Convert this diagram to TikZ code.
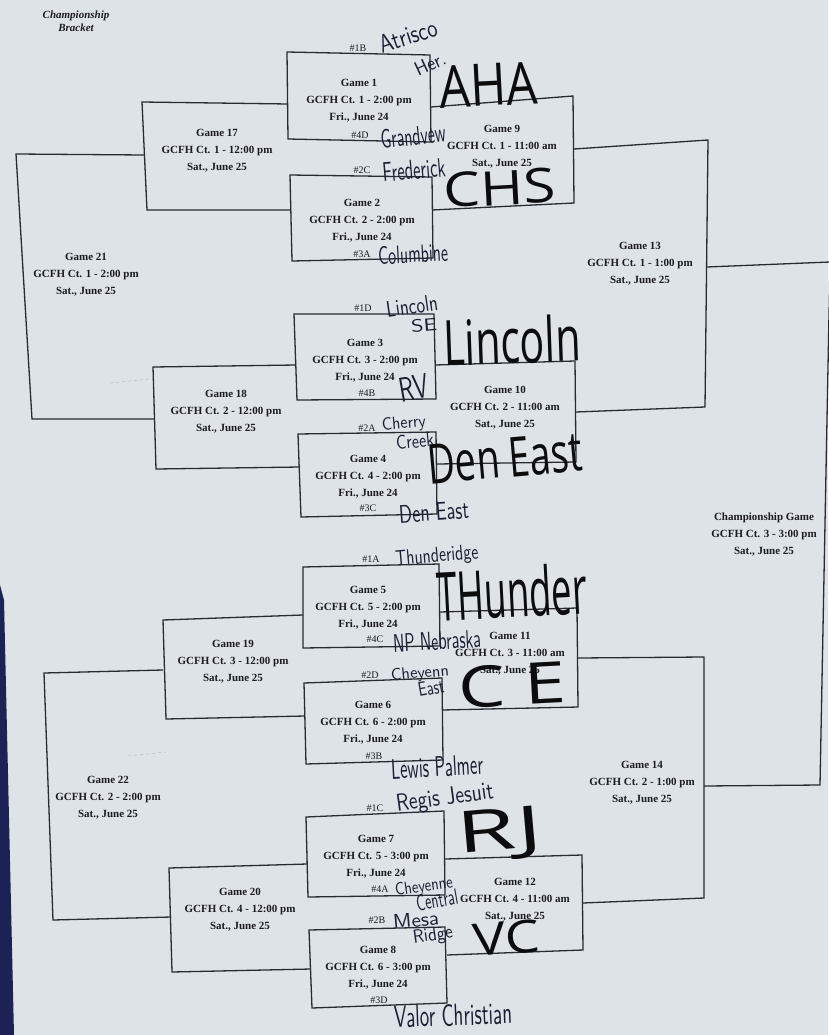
\documentclass[tikz,border=0pt]{standalone}
\usepackage{fontspec}
\setmainfont{Liberation Serif}
\newfontfamily\hwfont{Open Sans}
\newcommand\hw[3]{\resizebox*{#1pt}{#2pt}{\hwfont #3}}
\newcommand\hp[3]{\resizebox*{#1pt}{#2pt}{\sffamily #3}}
\definecolor{paper}{RGB}{221,227,231}
\definecolor{linec}{RGB}{40,44,50}
\definecolor{txtc}{RGB}{28,28,32}
\definecolor{inkc}{RGB}{26,30,52}
\definecolor{markc}{RGB}{12,12,14}
\definecolor{edgeblue}{RGB}{28,34,86}
\tikzset{
  brk/.style={draw=linec, line width=1.3pt, line join=miter},
  gm/.style={font=\fontsize{11}{17}\selectfont\bfseries, text=txtc, align=center, inner sep=0pt},
  seed/.style={font=\fontsize{10}{12}\selectfont, text=txtc, inner sep=0pt},
  pen/.style={text=inkc, inner sep=0pt},
  marker/.style={text=markc, inner sep=0pt},
}
\begin{document}
\begin{tikzpicture}[x=1pt,y=-1pt]
\useasboundingbox (0,0) rectangle (828,1035);
\fill[paper] (0,0) rectangle (828,1035);
\fill[edgeblue] (0,585) -- (4,600) -- (14,1035) -- (0,1035) -- cycle;
\draw[gray!55, dashed, line width=0.5pt] (110,383) -- (150,379);
\draw[gray!55, dashed, line width=0.5pt] (128,756) -- (166,752);

% title
\node[font=\fontsize{11}{13}\selectfont\bfseries\itshape, text=txtc, align=center, inner sep=0pt] (title) at (76,21) {Championship\\Bracket};

% ---------- first round boxes ----------
\draw[brk] (287,52) -- (430,55) -- (431,142) -- (288,139) -- cycle;   % G1
\draw[brk] (290,175) -- (432,177) -- (433,258) -- (292,261) -- cycle; % G2
\draw[brk] (294,314) -- (434,314) -- (436,399) -- (297,400) -- cycle; % G3
\draw[brk] (298,434) -- (436,432) -- (437,514) -- (301,517) -- cycle; % G4
\draw[brk] (303,567) -- (439,564) -- (440,646) -- (303,648) -- cycle; % G5
\draw[brk] (304,683) -- (442,678) -- (443,760) -- (306,764) -- cycle; % G6
\draw[brk] (306,817) -- (444,811) -- (445,895) -- (308,897) -- cycle; % G7
\draw[brk] (309,930) -- (445,927) -- (447,1003) -- (312,1008) -- cycle; % G8

% ---------- right side brackets ----------
\draw[brk] (431,107) -- (573,96) -- (574,203) -- (432,210);   % G9
\draw[brk] (435,365) -- (575,361) -- (576,462) -- (437,464);  % G10
\draw[brk] (440,612) -- (577,608) -- (578,707) -- (442,710);  % G11
\draw[brk] (445,859) -- (582,855) -- (583,950) -- (447,955);  % G12
\draw[brk] (574,149) -- (708,140) -- (705,407) -- (576,412);  % G13
\draw[brk] (578,658) -- (704,657) -- (704,898) -- (583,903);  % G14
\draw[brk] (707,267) -- (830,262) -- (820,785) -- (704,786);  % Championship

% ---------- left side brackets ----------
\draw[brk] (288,104) -- (142,102) -- (147,210) -- (291,210);  % G17
\draw[brk] (296,365) -- (153,367) -- (156,469) -- (300,467);  % G18
\draw[brk] (303,615) -- (163,620) -- (166,719) -- (305,716);  % G19
\draw[brk] (307,864) -- (169,868) -- (172,972) -- (311,969);  % G20
\draw[brk] (144,155) -- (16,154) -- (32,419) -- (154,419);    % G21
\draw[brk] (163,670) -- (44,673) -- (53,920) -- (171,917);    % G22

% ---------- printed game texts ----------
\node[gm] (g1) at (359,101) {Game 1\\GCFH Ct. 1 - 2:00 pm\\Fri., June 24};
\node[gm] (g2) at (362,221) {Game 2\\GCFH Ct. 2 - 2:00 pm\\Fri., June 24};
\node[gm] (g3) at (365,361) {Game 3\\GCFH Ct. 3 - 2:00 pm\\Fri., June 24};
\node[gm] (g4) at (368,477) {Game 4\\GCFH Ct. 4 - 2:00 pm\\Fri., June 24};
\node[gm] (g5) at (368,608) {Game 5\\GCFH Ct. 5 - 2:00 pm\\Fri., June 24};
\node[gm] (g6) at (373,723) {Game 6\\GCFH Ct. 6 - 2:00 pm\\Fri., June 24};
\node[gm] (g7) at (376,857) {Game 7\\GCFH Ct. 5 - 3:00 pm\\Fri., June 24};
\node[gm] (g8) at (378,968) {Game 8\\GCFH Ct. 6 - 3:00 pm\\Fri., June 24};
\node[gm] (g9) at (502,147) {Game 9\\GCFH Ct. 1 - 11:00 am\\Sat., June 25};
\node[gm] (g10) at (505,408) {Game 10\\GCFH Ct. 2 - 11:00 am\\Sat., June 25};
\node[gm] (g11) at (510,654) {Game 11\\GCFH Ct. 3 - 11:00 am\\Sat., June 25};
\node[gm] (g12) at (515,900) {Game 12\\GCFH Ct. 4 - 11:00 am\\Sat., June 25};
\node[gm] (g13) at (640,264) {Game 13\\GCFH Ct. 1 - 1:00 pm\\Sat., June 25};
\node[gm] (g14) at (642,783) {Game 14\\GCFH Ct. 2 - 1:00 pm\\Sat., June 25};
\node[gm] (g17) at (217,151) {Game 17\\GCFH Ct. 1 - 12:00 pm\\Sat., June 25};
\node[gm] (g18) at (226,412) {Game 18\\GCFH Ct. 2 - 12:00 pm\\Sat., June 25};
\node[gm] (g19) at (233,662) {Game 19\\GCFH Ct. 3 - 12:00 pm\\Sat., June 25};
\node[gm] (g20) at (240,910) {Game 20\\GCFH Ct. 4 - 12:00 pm\\Sat., June 25};
\node[gm] (g21) at (86,275) {Game 21\\GCFH Ct. 1 - 2:00 pm\\Sat., June 25};
\node[gm] (g22) at (108,798) {Game 22\\GCFH Ct. 2 - 2:00 pm\\Sat., June 25};
\node[gm] (champ) at (764,535) {Championship Game\\GCFH Ct. 3 - 3:00 pm\\Sat., June 25};

% ---------- seeds ----------
\node[seed] (s1b) at (358,48) {\#1B};
\node[seed] (s4d) at (360,135) {\#4D};
\node[seed] (s2c) at (362,170) {\#2C};
\node[seed] (s3a) at (362,254) {\#3A};
\node[seed] (s1d) at (363,308) {\#1D};
\node[seed] (s4b) at (367,393) {\#4B};
\node[seed] (s2a) at (367,428) {\#2A};
\node[seed] (s3c) at (368,508) {\#3C};
\node[seed] (s1a) at (371,559) {\#1A};
\node[seed] (s4c) at (375,639) {\#4C};
\node[seed] (s2d) at (370,675) {\#2D};
\node[seed] (s3b) at (374,756) {\#3B};
\node[seed] (s1c) at (375,808) {\#1C};
\node[seed] (s4a) at (380,889) {\#4A};
\node[seed] (s2b) at (377,920) {\#2B};
\node[seed] (s3d) at (379,1000) {\#3D};

% ---------- handwriting (pen) ----------
\node[pen, rotate=18] (h1) at (408,36) {\hp{60}{18}{Atrisco}};
\node[pen, rotate=25] (h2) at (430,64) {\hp{32}{14}{Her.}};
\node[pen, rotate=6] (h3) at (413,136) {\hp{65}{19}{Grandvew}};
\node[pen, rotate=5] (h4) at (414,170) {\hp{63}{19}{Frederick}};
\node[pen, rotate=3] (h5) at (413,254) {\hp{70}{18}{Columbine}};
\node[pen, rotate=8] (h6) at (412,306) {\hp{52}{16}{Lincoln}};
\node[pen, rotate=5] (h7) at (424,325) {\hp{26}{13}{SE}};
\node[pen, rotate=10] (h8) at (414,388) {\hp{30}{24}{RV}};
\node[pen, rotate=5] (h9) at (404,424) {\hp{44}{16}{Cherry}};
\node[pen, rotate=5] (h10) at (415,441) {\hp{38}{14}{Creek}};
\node[pen, rotate=4] (h11) at (434,512) {\hp{70}{18}{Den East}};
\node[pen, rotate=5] (h12) at (437,557) {\hp{83}{19}{Thunderidge}};
\node[pen, rotate=3] (h13) at (437,641) {\hp{88}{18}{NP Nebraska}};
\node[pen, rotate=5] (h14) at (420,674) {\hp{58}{15}{Cheyenn}};
\node[pen, rotate=10] (h15) at (431,688) {\hp{26}{14}{East}};
\node[pen, rotate=3] (h16) at (437,767) {\hp{92}{20}{Lewis Palmer}};
\node[pen, rotate=8] (h17) at (445,799) {\hp{98}{22}{Regis Jesuit}};
\node[pen, rotate=8] (h18) at (424,887) {\hp{58}{16}{Cheyenne}};
\node[pen, rotate=10] (h19) at (437,900) {\hp{42}{16}{Central}};
\node[pen, rotate=5] (h20) at (416,920) {\hp{46}{14}{Mesa}};
\node[pen, rotate=8] (h21) at (433,936) {\hp{40}{17}{Ridge}};
\node[pen, rotate=2] (h22) at (453,1015) {\hp{118}{22}{Valor Christian}};

% ---------- handwriting (marker) ----------
\node[marker, rotate=3] (m1) at (488,85) {\hw{98}{42}{AHA}};
\node[marker, rotate=3] (m2) at (500,188) {\hw{112}{35}{CHS}};
\node[marker, rotate=2] (m3) at (512,340) {\hw{137}{48}{Lincoln}};
\node[marker, rotate=5] (m4) at (505,458) {\hw{155}{40}{Den East}};
\node[marker, rotate=3] (m5) at (512,592) {\hw{150}{52}{THunder}};
\node[marker, rotate=3] (m6) at (512,685) {\hw{108}{42}{C E}};
\node[marker, rotate=5] (m7) at (500,835) {\hw{85}{52}{RJ}};
\node[marker, rotate=5] (m8) at (506,938) {\hw{67}{33}{VC}};
\end{tikzpicture}
\end{document}
